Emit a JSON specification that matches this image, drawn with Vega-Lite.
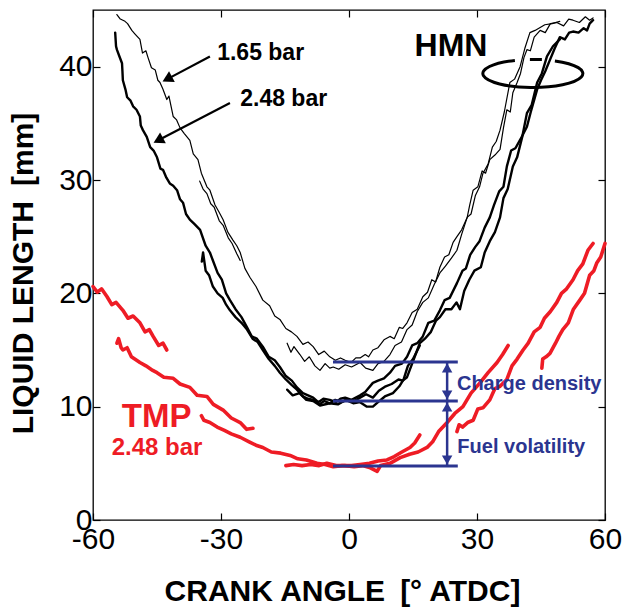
{
"$schema": "https://vega.github.io/schema/vega-lite/v6.json",
"width": 512, "height": 510,
"autosize": {"type": "none"},
"padding": {"left": 93, "top": 10, "right": 20, "bottom": 90},
"background": "white",
"config": {
  "view": {"stroke": "black", "strokeWidth": 1.3},
  "axis": {"grid": false, "domain": false, "tickColor": "black", "tickSize": -7, "tickWidth": 1.2,
    "labelFont": "Liberation Sans", "labelFontSize": 30, "labelColor": "black", "labelFlush": false,
    "titleFont": "Liberation Sans", "titleFontSize": 30, "titleFontWeight": "bold", "titleColor": "black"}
},
"datasets": {
"curves": [
{"s":"HMN 1.65 bar","r":"a","x":-54.4,"y":44.6},{"s":"HMN 1.65 bar","r":"a","x":-53.6,"y":44.2},{"s":"HMN 1.65 bar","r":"a","x":-52.5,"y":44.0},{"s":"HMN 1.65 bar","r":"a","x":-51.9,"y":43.8},{"s":"HMN 1.65 bar","r":"a","x":-50.9,"y":43.2},{"s":"HMN 1.65 bar","r":"a","x":-50.2,"y":42.9},{"s":"HMN 1.65 bar","r":"a","x":-49.0,"y":42.4},{"s":"HMN 1.65 bar","r":"a","x":-48.4,"y":41.2},{"s":"HMN 1.65 bar","r":"a","x":-47.6,"y":41.4},{"s":"HMN 1.65 bar","r":"a","x":-47.1,"y":40.8},{"s":"HMN 1.65 bar","r":"a","x":-46.3,"y":39.9},{"s":"HMN 1.65 bar","r":"a","x":-45.4,"y":39.7},{"s":"HMN 1.65 bar","r":"a","x":-44.8,"y":38.8},{"s":"HMN 1.65 bar","r":"a","x":-44.3,"y":38.6},{"s":"HMN 1.65 bar","r":"a","x":-43.6,"y":38.0},{"s":"HMN 1.65 bar","r":"a","x":-42.7,"y":37.1},{"s":"HMN 1.65 bar","r":"a","x":-42.2,"y":37.4},{"s":"HMN 1.65 bar","r":"a","x":-41.2,"y":35.6},{"s":"HMN 1.65 bar","r":"a","x":-40.4,"y":35.3},{"s":"HMN 1.65 bar","r":"a","x":-39.6,"y":34.6},{"s":"HMN 1.65 bar","r":"a","x":-38.6,"y":34.1},{"s":"HMN 1.65 bar","r":"a","x":-37.3,"y":33.5},{"s":"HMN 1.65 bar","r":"a","x":-36.5,"y":32.3},{"s":"HMN 1.65 bar","r":"a","x":-35.4,"y":31.8},{"s":"HMN 1.65 bar","r":"a","x":-34.6,"y":30.6},{"s":"HMN 1.65 bar","r":"a","x":-33.3,"y":29.4},{"s":"HMN 1.65 bar","r":"a","x":-32.6,"y":29.1},{"s":"HMN 1.65 bar","r":"a","x":-31.4,"y":27.8},{"s":"HMN 1.65 bar","r":"a","x":-30.5,"y":27.2},{"s":"HMN 1.65 bar","r":"a","x":-29.5,"y":26.5},{"s":"HMN 1.65 bar","r":"a","x":-28.4,"y":25.4},{"s":"HMN 1.65 bar","r":"a","x":-27.2,"y":24.7},{"s":"HMN 1.65 bar","r":"a","x":-26.3,"y":24.2},{"s":"HMN 1.65 bar","r":"a","x":-25.5,"y":23.6},{"s":"HMN 1.65 bar","r":"a","x":-24.4,"y":22.2},{"s":"HMN 1.65 bar","r":"a","x":-23.2,"y":21.4},{"s":"HMN 1.65 bar","r":"a","x":-21.8,"y":20.6},{"s":"HMN 1.65 bar","r":"a","x":-20.2,"y":19.4},{"s":"HMN 1.65 bar","r":"a","x":-18.6,"y":18.9},{"s":"HMN 1.65 bar","r":"a","x":-17.4,"y":18.0},{"s":"HMN 1.65 bar","r":"a","x":-16.2,"y":17.7},{"s":"HMN 1.65 bar","r":"a","x":-14.8,"y":16.9},{"s":"HMN 1.65 bar","r":"a","x":-13.5,"y":16.6},{"s":"HMN 1.65 bar","r":"a","x":-12.2,"y":16.2},{"s":"HMN 1.65 bar","r":"a","x":-10.8,"y":15.5},{"s":"HMN 1.65 bar","r":"a","x":-9.6,"y":15.7},{"s":"HMN 1.65 bar","r":"a","x":-8.4,"y":15.3},{"s":"HMN 1.65 bar","r":"a","x":-7.1,"y":14.6},{"s":"HMN 1.65 bar","r":"a","x":-5.8,"y":14.9},{"s":"HMN 1.65 bar","r":"a","x":-4.5,"y":14.4},{"s":"HMN 1.65 bar","r":"a","x":-3.2,"y":14.1},{"s":"HMN 1.65 bar","r":"a","x":-2.0,"y":14.3},{"s":"HMN 1.65 bar","r":"a","x":-0.9,"y":14.1},{"s":"HMN 1.65 bar","r":"a","x":0.5,"y":13.9},{"s":"HMN 1.65 bar","r":"a","x":1.6,"y":14.3},{"s":"HMN 1.65 bar","r":"a","x":2.6,"y":14.3},{"s":"HMN 1.65 bar","r":"a","x":3.8,"y":14.6},{"s":"HMN 1.65 bar","r":"a","x":4.6,"y":14.4},{"s":"HMN 1.65 bar","r":"a","x":5.6,"y":15.0},{"s":"HMN 1.65 bar","r":"a","x":6.8,"y":15.2},{"s":"HMN 1.65 bar","r":"a","x":8.2,"y":15.9},{"s":"HMN 1.65 bar","r":"a","x":9.6,"y":16.2},{"s":"HMN 1.65 bar","r":"a","x":10.6,"y":16.0},{"s":"HMN 1.65 bar","r":"a","x":11.8,"y":17.0},{"s":"HMN 1.65 bar","r":"a","x":12.6,"y":16.9},{"s":"HMN 1.65 bar","r":"a","x":13.6,"y":17.4},{"s":"HMN 1.65 bar","r":"a","x":14.8,"y":18.3},{"s":"HMN 1.65 bar","r":"a","x":16.0,"y":18.6},{"s":"HMN 1.65 bar","r":"a","x":17.3,"y":19.7},{"s":"HMN 1.65 bar","r":"a","x":18.4,"y":20.1},{"s":"HMN 1.65 bar","r":"a","x":19.4,"y":21.2},{"s":"HMN 1.65 bar","r":"a","x":20.3,"y":21.0},{"s":"HMN 1.65 bar","r":"a","x":21.3,"y":22.3},{"s":"HMN 1.65 bar","r":"a","x":22.4,"y":23.2},{"s":"HMN 1.65 bar","r":"a","x":23.4,"y":23.4},{"s":"HMN 1.65 bar","r":"a","x":24.4,"y":24.5},{"s":"HMN 1.65 bar","r":"a","x":25.3,"y":25.0},{"s":"HMN 1.65 bar","r":"a","x":26.4,"y":25.6},{"s":"HMN 1.65 bar","r":"a","x":27.7,"y":26.7},{"s":"HMN 1.65 bar","r":"a","x":28.3,"y":27.8},{"s":"HMN 1.65 bar","r":"a","x":29.1,"y":29.1},{"s":"HMN 1.65 bar","r":"a","x":30.2,"y":29.4},{"s":"HMN 1.65 bar","r":"a","x":31.2,"y":30.8},{"s":"HMN 1.65 bar","r":"a","x":32.0,"y":30.6},{"s":"HMN 1.65 bar","r":"a","x":33.0,"y":31.8},{"s":"HMN 1.65 bar","r":"a","x":34.2,"y":32.2},{"s":"HMN 1.65 bar","r":"a","x":35.4,"y":32.7},{"s":"HMN 1.65 bar","r":"a","x":36.2,"y":34.6},{"s":"HMN 1.65 bar","r":"a","x":37.0,"y":36.2},{"s":"HMN 1.65 bar","r":"a","x":37.8,"y":36.0},{"s":"HMN 1.65 bar","r":"a","x":38.4,"y":37.7},{"s":"HMN 1.65 bar","r":"a","x":39.4,"y":38.6},{"s":"HMN 1.65 bar","r":"a","x":40.2,"y":39.4},{"s":"HMN 1.65 bar","r":"a","x":41.0,"y":40.8},{"s":"HMN 1.65 bar","r":"a","x":41.7,"y":41.5},{"s":"HMN 1.65 bar","r":"a","x":42.5,"y":41.4},{"s":"HMN 1.65 bar","r":"a","x":43.4,"y":42.6},{"s":"HMN 1.65 bar","r":"a","x":44.8,"y":43.2},{"s":"HMN 1.65 bar","r":"a","x":46.0,"y":43.0},{"s":"HMN 1.65 bar","r":"a","x":47.2,"y":43.8},{"s":"HMN 1.65 bar","r":"a","x":48.7,"y":43.9},{"s":"HMN 1.65 bar","r":"a","x":50.3,"y":43.6},{"s":"HMN 1.65 bar","r":"a","x":51.5,"y":44.2},{"s":"HMN 1.65 bar","r":"a","x":52.5,"y":44.1},{"s":"HMN 1.65 bar","r":"a","x":54.0,"y":43.9},{"s":"HMN 1.65 bar","r":"a","x":55.4,"y":44.4},{"s":"HMN 1.65 bar","r":"a","x":56.4,"y":44.1},{"s":"HMN 1.65 bar","r":"a","x":57.2,"y":44.3},
{"s":"HMN 1.65 bar","r":"b","x":-14.5,"y":15.6},{"s":"HMN 1.65 bar","r":"b","x":-13.6,"y":14.8},{"s":"HMN 1.65 bar","r":"b","x":-12.9,"y":15.3},{"s":"HMN 1.65 bar","r":"b","x":-11.5,"y":14.6},{"s":"HMN 1.65 bar","r":"b","x":-10.4,"y":14.0},{"s":"HMN 1.65 bar","r":"b","x":-9.3,"y":14.4},{"s":"HMN 1.65 bar","r":"b","x":-8.0,"y":13.6},{"s":"HMN 1.65 bar","r":"b","x":-6.8,"y":13.2},{"s":"HMN 1.65 bar","r":"b","x":-5.6,"y":13.8},{"s":"HMN 1.65 bar","r":"b","x":-4.5,"y":13.4},{"s":"HMN 1.65 bar","r":"b","x":-3.7,"y":13.5},{"s":"HMN 1.65 bar","r":"b","x":-2.4,"y":13.3},{"s":"HMN 1.65 bar","r":"b","x":-0.9,"y":13.7},{"s":"HMN 1.65 bar","r":"b","x":0.6,"y":13.5},{"s":"HMN 1.65 bar","r":"b","x":2.6,"y":13.9},{"s":"HMN 1.65 bar","r":"b","x":3.9,"y":13.4},{"s":"HMN 1.65 bar","r":"b","x":5.6,"y":13.2},{"s":"HMN 1.65 bar","r":"b","x":6.8,"y":13.8},{"s":"HMN 1.65 bar","r":"b","x":8.2,"y":14.0},{"s":"HMN 1.65 bar","r":"b","x":9.6,"y":14.6},{"s":"HMN 1.65 bar","r":"b","x":10.8,"y":15.4},{"s":"HMN 1.65 bar","r":"b","x":12.3,"y":15.7},{"s":"HMN 1.65 bar","r":"b","x":13.6,"y":16.8},{"s":"HMN 1.65 bar","r":"b","x":14.8,"y":17.2},{"s":"HMN 1.65 bar","r":"b","x":16.0,"y":18.4},{"s":"HMN 1.65 bar","r":"b","x":17.3,"y":19.2},{"s":"HMN 1.65 bar","r":"b","x":18.6,"y":19.6},{"s":"HMN 1.65 bar","r":"b","x":20.0,"y":20.8},{"s":"HMN 1.65 bar","r":"b","x":21.3,"y":21.8},{"s":"HMN 1.65 bar","r":"b","x":22.6,"y":22.4},{"s":"HMN 1.65 bar","r":"b","x":24.0,"y":23.1},{"s":"HMN 1.65 bar","r":"b","x":25.3,"y":23.8},{"s":"HMN 1.65 bar","r":"b","x":26.4,"y":25.2},{"s":"HMN 1.65 bar","r":"b","x":27.7,"y":26.7},{"s":"HMN 1.65 bar","r":"b","x":28.6,"y":27.0},{"s":"HMN 1.65 bar","r":"b","x":29.6,"y":28.6},{"s":"HMN 1.65 bar","r":"b","x":30.6,"y":29.4},{"s":"HMN 1.65 bar","r":"b","x":31.4,"y":30.6},{"s":"HMN 1.65 bar","r":"b","x":32.6,"y":31.4},{"s":"HMN 1.65 bar","r":"b","x":33.6,"y":32.9},{"s":"HMN 1.65 bar","r":"b","x":34.5,"y":33.4},{"s":"HMN 1.65 bar","r":"b","x":35.4,"y":34.4},{"s":"HMN 1.65 bar","r":"b","x":36.4,"y":36.0},{"s":"HMN 1.65 bar","r":"b","x":37.7,"y":38.6},{"s":"HMN 1.65 bar","r":"b","x":38.8,"y":38.9},{"s":"HMN 1.65 bar","r":"b","x":40.1,"y":40.0},{"s":"HMN 1.65 bar","r":"b","x":41.2,"y":41.6},{"s":"HMN 1.65 bar","r":"b","x":42.4,"y":43.0},{"s":"HMN 1.65 bar","r":"b","x":43.6,"y":43.2},{"s":"HMN 1.65 bar","r":"b","x":45.9,"y":43.7},{"s":"HMN 1.65 bar","r":"b","x":47.6,"y":43.8},{"s":"HMN 1.65 bar","r":"b","x":49.4,"y":44.0},
{"s":"HMN 1.65 bar","r":"c","x":-35.0,"y":29.9},{"s":"HMN 1.65 bar","r":"c","x":-34.2,"y":29.2},{"s":"HMN 1.65 bar","r":"c","x":-33.3,"y":28.8},{"s":"HMN 1.65 bar","r":"c","x":-32.4,"y":27.9},{"s":"HMN 1.65 bar","r":"c","x":-31.6,"y":27.6},{"s":"HMN 1.65 bar","r":"c","x":-30.4,"y":26.4},{"s":"HMN 1.65 bar","r":"c","x":-29.5,"y":26.0},{"s":"HMN 1.65 bar","r":"c","x":-28.3,"y":24.9},{"s":"HMN 1.65 bar","r":"c","x":-27.4,"y":24.4},{"s":"HMN 1.65 bar","r":"c","x":-26.3,"y":23.5},{"s":"HMN 1.65 bar","r":"c","x":-25.5,"y":22.9},
{"s":"HMN 2.48 bar","r":"d","x":-54.8,"y":43.0},{"s":"HMN 2.48 bar","r":"d","x":-54.6,"y":41.8},{"s":"HMN 2.48 bar","r":"d","x":-54.4,"y":41.5},{"s":"HMN 2.48 bar","r":"d","x":-53.8,"y":40.9},{"s":"HMN 2.48 bar","r":"d","x":-53.2,"y":40.3},{"s":"HMN 2.48 bar","r":"d","x":-53.1,"y":39.6},{"s":"HMN 2.48 bar","r":"d","x":-53.0,"y":38.8},{"s":"HMN 2.48 bar","r":"d","x":-52.4,"y":38.0},{"s":"HMN 2.48 bar","r":"d","x":-52.0,"y":37.3},{"s":"HMN 2.48 bar","r":"d","x":-51.2,"y":37.0},{"s":"HMN 2.48 bar","r":"d","x":-50.6,"y":36.5},{"s":"HMN 2.48 bar","r":"d","x":-49.8,"y":36.2},{"s":"HMN 2.48 bar","r":"d","x":-49.0,"y":35.6},{"s":"HMN 2.48 bar","r":"d","x":-48.8,"y":34.8},{"s":"HMN 2.48 bar","r":"d","x":-48.3,"y":34.4},{"s":"HMN 2.48 bar","r":"d","x":-47.4,"y":33.8},{"s":"HMN 2.48 bar","r":"d","x":-46.6,"y":32.9},{"s":"HMN 2.48 bar","r":"d","x":-45.8,"y":32.6},{"s":"HMN 2.48 bar","r":"d","x":-45.0,"y":32.0},{"s":"HMN 2.48 bar","r":"d","x":-44.2,"y":31.0},{"s":"HMN 2.48 bar","r":"d","x":-43.6,"y":30.9},{"s":"HMN 2.48 bar","r":"d","x":-42.8,"y":30.2},{"s":"HMN 2.48 bar","r":"d","x":-42.0,"y":29.7},{"s":"HMN 2.48 bar","r":"d","x":-41.2,"y":29.5},{"s":"HMN 2.48 bar","r":"d","x":-40.3,"y":29.1},{"s":"HMN 2.48 bar","r":"d","x":-39.6,"y":28.3},{"s":"HMN 2.48 bar","r":"d","x":-38.9,"y":28.0},{"s":"HMN 2.48 bar","r":"d","x":-38.2,"y":27.0},{"s":"HMN 2.48 bar","r":"d","x":-37.3,"y":26.5},{"s":"HMN 2.48 bar","r":"d","x":-36.2,"y":26.1},{"s":"HMN 2.48 bar","r":"d","x":-34.9,"y":25.6},{"s":"HMN 2.48 bar","r":"d","x":-33.6,"y":24.2},{"s":"HMN 2.48 bar","r":"d","x":-32.6,"y":23.6},{"s":"HMN 2.48 bar","r":"d","x":-31.9,"y":22.9},{"s":"HMN 2.48 bar","r":"d","x":-30.8,"y":21.8},{"s":"HMN 2.48 bar","r":"d","x":-29.8,"y":21.2},{"s":"HMN 2.48 bar","r":"d","x":-28.8,"y":20.0},{"s":"HMN 2.48 bar","r":"d","x":-27.9,"y":19.4},{"s":"HMN 2.48 bar","r":"d","x":-26.6,"y":18.6},{"s":"HMN 2.48 bar","r":"d","x":-25.2,"y":17.9},{"s":"HMN 2.48 bar","r":"d","x":-23.9,"y":17.0},{"s":"HMN 2.48 bar","r":"d","x":-22.8,"y":16.2},{"s":"HMN 2.48 bar","r":"d","x":-21.6,"y":16.0},{"s":"HMN 2.48 bar","r":"d","x":-20.2,"y":15.3},{"s":"HMN 2.48 bar","r":"d","x":-18.8,"y":14.4},{"s":"HMN 2.48 bar","r":"d","x":-17.4,"y":14.1},{"s":"HMN 2.48 bar","r":"d","x":-16.2,"y":13.5},{"s":"HMN 2.48 bar","r":"d","x":-14.8,"y":12.7},{"s":"HMN 2.48 bar","r":"d","x":-13.4,"y":12.3},{"s":"HMN 2.48 bar","r":"d","x":-12.2,"y":11.7},{"s":"HMN 2.48 bar","r":"d","x":-10.8,"y":11.2},{"s":"HMN 2.48 bar","r":"d","x":-9.6,"y":11.0},{"s":"HMN 2.48 bar","r":"d","x":-8.4,"y":10.8},{"s":"HMN 2.48 bar","r":"d","x":-7.2,"y":10.4},{"s":"HMN 2.48 bar","r":"d","x":-6.0,"y":10.7},{"s":"HMN 2.48 bar","r":"d","x":-4.5,"y":10.6},{"s":"HMN 2.48 bar","r":"d","x":-3.0,"y":10.4},{"s":"HMN 2.48 bar","r":"d","x":-2.0,"y":10.7},{"s":"HMN 2.48 bar","r":"d","x":-0.9,"y":10.8},{"s":"HMN 2.48 bar","r":"d","x":0.6,"y":10.6},{"s":"HMN 2.48 bar","r":"d","x":2.6,"y":11.0},{"s":"HMN 2.48 bar","r":"d","x":3.8,"y":11.3},{"s":"HMN 2.48 bar","r":"d","x":5.6,"y":12.1},{"s":"HMN 2.48 bar","r":"d","x":6.8,"y":12.3},{"s":"HMN 2.48 bar","r":"d","x":8.2,"y":12.5},{"s":"HMN 2.48 bar","r":"d","x":9.6,"y":13.0},{"s":"HMN 2.48 bar","r":"d","x":10.8,"y":13.6},{"s":"HMN 2.48 bar","r":"d","x":12.4,"y":13.8},{"s":"HMN 2.48 bar","r":"d","x":13.6,"y":14.4},{"s":"HMN 2.48 bar","r":"d","x":14.8,"y":15.4},{"s":"HMN 2.48 bar","r":"d","x":16.0,"y":15.6},{"s":"HMN 2.48 bar","r":"d","x":17.3,"y":16.2},{"s":"HMN 2.48 bar","r":"d","x":18.6,"y":17.4},{"s":"HMN 2.48 bar","r":"d","x":20.0,"y":17.6},{"s":"HMN 2.48 bar","r":"d","x":21.3,"y":18.5},{"s":"HMN 2.48 bar","r":"d","x":22.4,"y":19.4},{"s":"HMN 2.48 bar","r":"d","x":23.6,"y":19.6},{"s":"HMN 2.48 bar","r":"d","x":25.3,"y":20.9},{"s":"HMN 2.48 bar","r":"d","x":26.6,"y":22.0},{"s":"HMN 2.48 bar","r":"d","x":27.4,"y":22.2},{"s":"HMN 2.48 bar","r":"d","x":28.4,"y":23.4},{"s":"HMN 2.48 bar","r":"d","x":29.6,"y":24.1},{"s":"HMN 2.48 bar","r":"d","x":30.6,"y":24.6},{"s":"HMN 2.48 bar","r":"d","x":31.8,"y":25.8},{"s":"HMN 2.48 bar","r":"d","x":33.0,"y":26.7},{"s":"HMN 2.48 bar","r":"d","x":34.0,"y":27.8},{"s":"HMN 2.48 bar","r":"d","x":35.2,"y":29.0},{"s":"HMN 2.48 bar","r":"d","x":36.2,"y":29.4},{"s":"HMN 2.48 bar","r":"d","x":37.0,"y":31.2},{"s":"HMN 2.48 bar","r":"d","x":38.0,"y":32.6},{"s":"HMN 2.48 bar","r":"d","x":39.0,"y":32.8},{"s":"HMN 2.48 bar","r":"d","x":40.2,"y":33.6},{"s":"HMN 2.48 bar","r":"d","x":41.7,"y":34.7},{"s":"HMN 2.48 bar","r":"d","x":42.6,"y":36.0},{"s":"HMN 2.48 bar","r":"d","x":43.2,"y":36.8},{"s":"HMN 2.48 bar","r":"d","x":44.1,"y":38.0},{"s":"HMN 2.48 bar","r":"d","x":45.0,"y":38.8},{"s":"HMN 2.48 bar","r":"d","x":46.0,"y":39.6},{"s":"HMN 2.48 bar","r":"d","x":47.1,"y":40.6},{"s":"HMN 2.48 bar","r":"d","x":48.2,"y":41.6},{"s":"HMN 2.48 bar","r":"d","x":49.4,"y":42.6},{"s":"HMN 2.48 bar","r":"d","x":50.6,"y":42.4},{"s":"HMN 2.48 bar","r":"d","x":51.6,"y":43.0},{"s":"HMN 2.48 bar","r":"d","x":52.5,"y":43.1},{"s":"HMN 2.48 bar","r":"d","x":53.8,"y":43.0},{"s":"HMN 2.48 bar","r":"d","x":55.0,"y":43.4},{"s":"HMN 2.48 bar","r":"d","x":55.8,"y":43.2},{"s":"HMN 2.48 bar","r":"d","x":56.4,"y":43.8},{"s":"HMN 2.48 bar","r":"d","x":57.2,"y":44.1},
{"s":"HMN 2.48 bar","r":"e","x":-34.5,"y":22.8},{"s":"HMN 2.48 bar","r":"e","x":-34.2,"y":23.6},{"s":"HMN 2.48 bar","r":"e","x":-33.6,"y":22.0},{"s":"HMN 2.48 bar","r":"e","x":-32.8,"y":21.6},{"s":"HMN 2.48 bar","r":"e","x":-31.9,"y":20.6},{"s":"HMN 2.48 bar","r":"e","x":-30.8,"y":20.0},{"s":"HMN 2.48 bar","r":"e","x":-29.6,"y":19.6},{"s":"HMN 2.48 bar","r":"e","x":-28.8,"y":19.0},{"s":"HMN 2.48 bar","r":"e","x":-27.9,"y":18.5},{"s":"HMN 2.48 bar","r":"e","x":-26.6,"y":17.9},{"s":"HMN 2.48 bar","r":"e","x":-25.2,"y":17.4},{"s":"HMN 2.48 bar","r":"e","x":-23.9,"y":16.8},{"s":"HMN 2.48 bar","r":"e","x":-22.6,"y":16.0},{"s":"HMN 2.48 bar","r":"e","x":-21.4,"y":15.7},{"s":"HMN 2.48 bar","r":"e","x":-20.2,"y":15.0},{"s":"HMN 2.48 bar","r":"e","x":-18.8,"y":14.2},{"s":"HMN 2.48 bar","r":"e","x":-17.4,"y":13.6},{"s":"HMN 2.48 bar","r":"e","x":-16.2,"y":13.0},{"s":"HMN 2.48 bar","r":"e","x":-14.8,"y":12.4},{"s":"HMN 2.48 bar","r":"e","x":-13.4,"y":11.9},{"s":"HMN 2.48 bar","r":"e","x":-12.2,"y":11.5},{"s":"HMN 2.48 bar","r":"e","x":-10.8,"y":10.9},{"s":"HMN 2.48 bar","r":"e","x":-9.6,"y":10.7},{"s":"HMN 2.48 bar","r":"e","x":-8.4,"y":10.6},{"s":"HMN 2.48 bar","r":"e","x":-7.0,"y":10.2},{"s":"HMN 2.48 bar","r":"e","x":-5.8,"y":10.5},{"s":"HMN 2.48 bar","r":"e","x":-4.5,"y":10.3},{"s":"HMN 2.48 bar","r":"e","x":-3.2,"y":10.6},{"s":"HMN 2.48 bar","r":"e","x":-1.8,"y":10.4},{"s":"HMN 2.48 bar","r":"e","x":-0.4,"y":10.6},{"s":"HMN 2.48 bar","r":"e","x":1.2,"y":10.5},{"s":"HMN 2.48 bar","r":"e","x":2.6,"y":10.8},{"s":"HMN 2.48 bar","r":"e","x":4.0,"y":11.1},{"s":"HMN 2.48 bar","r":"e","x":5.6,"y":10.8},{"s":"HMN 2.48 bar","r":"e","x":7.0,"y":11.4},{"s":"HMN 2.48 bar","r":"e","x":8.6,"y":11.8},{"s":"HMN 2.48 bar","r":"e","x":10.0,"y":12.0},{"s":"HMN 2.48 bar","r":"e","x":11.6,"y":12.4},{"s":"HMN 2.48 bar","r":"e","x":12.6,"y":12.3},{"s":"HMN 2.48 bar","r":"e","x":13.6,"y":12.6},{"s":"HMN 2.48 bar","r":"e","x":14.6,"y":13.6},{"s":"HMN 2.48 bar","r":"e","x":15.6,"y":14.6},{"s":"HMN 2.48 bar","r":"e","x":16.6,"y":15.6},{"s":"HMN 2.48 bar","r":"e","x":17.8,"y":16.0},{"s":"HMN 2.48 bar","r":"e","x":19.2,"y":16.6},{"s":"HMN 2.48 bar","r":"e","x":20.4,"y":17.6},{"s":"HMN 2.48 bar","r":"e","x":21.3,"y":17.9},{"s":"HMN 2.48 bar","r":"e","x":22.6,"y":18.6},{"s":"HMN 2.48 bar","r":"e","x":24.0,"y":18.6},{"s":"HMN 2.48 bar","r":"e","x":25.2,"y":19.2},{"s":"HMN 2.48 bar","r":"e","x":26.0,"y":18.6},{"s":"HMN 2.48 bar","r":"e","x":27.0,"y":20.2},{"s":"HMN 2.48 bar","r":"e","x":28.2,"y":21.2},{"s":"HMN 2.48 bar","r":"e","x":29.4,"y":22.0},{"s":"HMN 2.48 bar","r":"e","x":30.9,"y":22.3},{"s":"HMN 2.48 bar","r":"e","x":31.8,"y":23.6},{"s":"HMN 2.48 bar","r":"e","x":33.0,"y":24.6},{"s":"HMN 2.48 bar","r":"e","x":34.2,"y":25.4},{"s":"HMN 2.48 bar","r":"e","x":35.4,"y":26.7},{"s":"HMN 2.48 bar","r":"e","x":36.2,"y":28.4},{"s":"HMN 2.48 bar","r":"e","x":37.2,"y":29.2},{"s":"HMN 2.48 bar","r":"e","x":38.4,"y":31.2},{"s":"HMN 2.48 bar","r":"e","x":39.4,"y":32.0},{"s":"HMN 2.48 bar","r":"e","x":40.6,"y":33.8},{"s":"HMN 2.48 bar","r":"e","x":41.7,"y":35.9},{"s":"HMN 2.48 bar","r":"e","x":42.8,"y":36.6},{"s":"HMN 2.48 bar","r":"e","x":44.1,"y":38.6},{"s":"HMN 2.48 bar","r":"e","x":45.2,"y":39.4},{"s":"HMN 2.48 bar","r":"e","x":46.4,"y":40.9},{"s":"HMN 2.48 bar","r":"e","x":47.8,"y":41.8},{"s":"HMN 2.48 bar","r":"e","x":49.4,"y":42.4},
{"s":"HMN 2.48 bar","r":"f","x":-14.5,"y":11.5},{"s":"HMN 2.48 bar","r":"f","x":-13.2,"y":11.0},{"s":"HMN 2.48 bar","r":"f","x":-11.6,"y":11.2},{"s":"HMN 2.48 bar","r":"f","x":-10.0,"y":10.6},{"s":"HMN 2.48 bar","r":"f","x":-8.4,"y":10.5},{"s":"HMN 2.48 bar","r":"f","x":-6.8,"y":10.1},{"s":"HMN 2.48 bar","r":"f","x":-4.5,"y":10.3},{"s":"HMN 2.48 bar","r":"f","x":-2.6,"y":10.2},{"s":"HMN 2.48 bar","r":"f","x":-0.8,"y":10.6},{"s":"HMN 2.48 bar","r":"f","x":1.0,"y":10.3},{"s":"HMN 2.48 bar","r":"f","x":2.6,"y":10.4},{"s":"HMN 2.48 bar","r":"f","x":4.2,"y":10.0},{"s":"HMN 2.48 bar","r":"f","x":5.6,"y":10.0},{"s":"HMN 2.48 bar","r":"f","x":6.8,"y":10.4},{"s":"HMN 2.48 bar","r":"f","x":8.4,"y":10.9},{"s":"HMN 2.48 bar","r":"f","x":10.3,"y":11.2},{"s":"HMN 2.48 bar","r":"f","x":11.8,"y":11.8},{"s":"HMN 2.48 bar","r":"f","x":12.8,"y":12.4},{"s":"HMN 2.48 bar","r":"f","x":13.8,"y":13.6},{"s":"HMN 2.48 bar","r":"f","x":15.0,"y":14.2},{"s":"HMN 2.48 bar","r":"f","x":16.6,"y":15.4},
{"s":"TMP 2.48 bar","r":"g","x":-60.0,"y":20.6},{"s":"TMP 2.48 bar","r":"g","x":-59.0,"y":20.1},{"s":"TMP 2.48 bar","r":"g","x":-58.0,"y":20.4},{"s":"TMP 2.48 bar","r":"g","x":-56.7,"y":19.7},{"s":"TMP 2.48 bar","r":"g","x":-55.6,"y":19.0},{"s":"TMP 2.48 bar","r":"g","x":-54.6,"y":19.2},{"s":"TMP 2.48 bar","r":"g","x":-53.0,"y":18.5},{"s":"TMP 2.48 bar","r":"g","x":-51.8,"y":17.8},{"s":"TMP 2.48 bar","r":"g","x":-50.6,"y":18.0},{"s":"TMP 2.48 bar","r":"g","x":-49.0,"y":17.4},{"s":"TMP 2.48 bar","r":"g","x":-47.8,"y":16.6},{"s":"TMP 2.48 bar","r":"g","x":-46.8,"y":16.8},{"s":"TMP 2.48 bar","r":"g","x":-45.9,"y":16.2},{"s":"TMP 2.48 bar","r":"g","x":-44.6,"y":15.4},{"s":"TMP 2.48 bar","r":"g","x":-43.6,"y":15.6},{"s":"TMP 2.48 bar","r":"g","x":-42.7,"y":15.0},
{"s":"TMP 2.48 bar","r":"h","x":-54.4,"y":15.6},{"s":"TMP 2.48 bar","r":"h","x":-54.0,"y":16.0},{"s":"TMP 2.48 bar","r":"h","x":-53.4,"y":15.2},{"s":"TMP 2.48 bar","r":"h","x":-53.0,"y":15.0},{"s":"TMP 2.48 bar","r":"h","x":-52.0,"y":15.2},{"s":"TMP 2.48 bar","r":"h","x":-51.0,"y":14.4},{"s":"TMP 2.48 bar","r":"h","x":-49.0,"y":13.9},{"s":"TMP 2.48 bar","r":"h","x":-47.6,"y":13.6},{"s":"TMP 2.48 bar","r":"h","x":-46.0,"y":13.2},{"s":"TMP 2.48 bar","r":"h","x":-45.0,"y":13.0},{"s":"TMP 2.48 bar","r":"h","x":-43.4,"y":12.6},{"s":"TMP 2.48 bar","r":"h","x":-41.2,"y":12.5},{"s":"TMP 2.48 bar","r":"h","x":-39.6,"y":12.0},{"s":"TMP 2.48 bar","r":"h","x":-37.3,"y":11.7},{"s":"TMP 2.48 bar","r":"h","x":-35.6,"y":11.0},{"s":"TMP 2.48 bar","r":"h","x":-33.3,"y":10.9},{"s":"TMP 2.48 bar","r":"h","x":-31.8,"y":10.2},{"s":"TMP 2.48 bar","r":"h","x":-29.5,"y":9.7},{"s":"TMP 2.48 bar","r":"h","x":-27.6,"y":9.0},{"s":"TMP 2.48 bar","r":"h","x":-25.5,"y":8.6},{"s":"TMP 2.48 bar","r":"h","x":-24.0,"y":8.0},{"s":"TMP 2.48 bar","r":"h","x":-22.5,"y":8.1},
{"s":"TMP 2.48 bar","r":"i","x":-34.6,"y":9.2},{"s":"TMP 2.48 bar","r":"i","x":-34.0,"y":8.8},{"s":"TMP 2.48 bar","r":"i","x":-32.6,"y":8.6},{"s":"TMP 2.48 bar","r":"i","x":-30.9,"y":8.2},{"s":"TMP 2.48 bar","r":"i","x":-29.2,"y":7.9},{"s":"TMP 2.48 bar","r":"i","x":-27.6,"y":7.6},{"s":"TMP 2.48 bar","r":"i","x":-25.5,"y":7.3},{"s":"TMP 2.48 bar","r":"i","x":-23.4,"y":6.9},{"s":"TMP 2.48 bar","r":"i","x":-21.8,"y":6.6},{"s":"TMP 2.48 bar","r":"i","x":-20.2,"y":6.4},{"s":"TMP 2.48 bar","r":"i","x":-18.2,"y":6.0},{"s":"TMP 2.48 bar","r":"i","x":-16.0,"y":5.9},{"s":"TMP 2.48 bar","r":"i","x":-13.8,"y":5.7},{"s":"TMP 2.48 bar","r":"i","x":-12.0,"y":5.4},{"s":"TMP 2.48 bar","r":"i","x":-10.0,"y":5.3},{"s":"TMP 2.48 bar","r":"i","x":-7.5,"y":5.0},{"s":"TMP 2.48 bar","r":"i","x":-5.6,"y":4.9},{"s":"TMP 2.48 bar","r":"i","x":-3.7,"y":4.7},{"s":"TMP 2.48 bar","r":"i","x":-1.6,"y":4.8},{"s":"TMP 2.48 bar","r":"i","x":0.6,"y":4.8},{"s":"TMP 2.48 bar","r":"i","x":2.6,"y":4.9},{"s":"TMP 2.48 bar","r":"i","x":4.8,"y":5.0},{"s":"TMP 2.48 bar","r":"i","x":6.8,"y":5.2},{"s":"TMP 2.48 bar","r":"i","x":8.9,"y":5.3},{"s":"TMP 2.48 bar","r":"i","x":10.6,"y":5.6},{"s":"TMP 2.48 bar","r":"i","x":12.4,"y":6.0},{"s":"TMP 2.48 bar","r":"i","x":14.3,"y":6.4},{"s":"TMP 2.48 bar","r":"i","x":15.4,"y":6.8},{"s":"TMP 2.48 bar","r":"i","x":16.6,"y":7.5},
{"s":"TMP 2.48 bar","r":"j","x":-14.8,"y":4.8},{"s":"TMP 2.48 bar","r":"j","x":-13.0,"y":4.9},{"s":"TMP 2.48 bar","r":"j","x":-11.0,"y":4.8},{"s":"TMP 2.48 bar","r":"j","x":-9.0,"y":4.9},{"s":"TMP 2.48 bar","r":"j","x":-7.0,"y":4.8},{"s":"TMP 2.48 bar","r":"j","x":-5.2,"y":5.0},{"s":"TMP 2.48 bar","r":"j","x":-3.0,"y":4.8},{"s":"TMP 2.48 bar","r":"j","x":-1.0,"y":4.8},{"s":"TMP 2.48 bar","r":"j","x":1.2,"y":4.7},{"s":"TMP 2.48 bar","r":"j","x":3.2,"y":4.8},{"s":"TMP 2.48 bar","r":"j","x":5.0,"y":4.6},{"s":"TMP 2.48 bar","r":"j","x":6.6,"y":4.3},{"s":"TMP 2.48 bar","r":"j","x":7.4,"y":4.8},{"s":"TMP 2.48 bar","r":"j","x":9.6,"y":5.0},{"s":"TMP 2.48 bar","r":"j","x":12.0,"y":5.5},{"s":"TMP 2.48 bar","r":"j","x":14.2,"y":5.8},{"s":"TMP 2.48 bar","r":"j","x":16.2,"y":6.0},{"s":"TMP 2.48 bar","r":"j","x":18.3,"y":6.4},{"s":"TMP 2.48 bar","r":"j","x":19.6,"y":6.9},{"s":"TMP 2.48 bar","r":"j","x":21.0,"y":7.8},{"s":"TMP 2.48 bar","r":"j","x":23.0,"y":8.6},{"s":"TMP 2.48 bar","r":"j","x":24.8,"y":9.4},{"s":"TMP 2.48 bar","r":"j","x":26.7,"y":10.0},{"s":"TMP 2.48 bar","r":"j","x":28.6,"y":11.2},{"s":"TMP 2.48 bar","r":"j","x":30.7,"y":12.1},{"s":"TMP 2.48 bar","r":"j","x":32.6,"y":13.0},{"s":"TMP 2.48 bar","r":"j","x":34.7,"y":13.9},{"s":"TMP 2.48 bar","r":"j","x":36.0,"y":14.6},{"s":"TMP 2.48 bar","r":"j","x":37.3,"y":15.4},
{"s":"TMP 2.48 bar","r":"k","x":25.3,"y":7.8},{"s":"TMP 2.48 bar","r":"k","x":25.8,"y":8.4},{"s":"TMP 2.48 bar","r":"k","x":26.6,"y":8.2},{"s":"TMP 2.48 bar","r":"k","x":27.8,"y":8.6},{"s":"TMP 2.48 bar","r":"k","x":29.1,"y":8.8},{"s":"TMP 2.48 bar","r":"k","x":30.2,"y":9.8},{"s":"TMP 2.48 bar","r":"k","x":31.4,"y":9.9},{"s":"TMP 2.48 bar","r":"k","x":33.0,"y":10.6},{"s":"TMP 2.48 bar","r":"k","x":34.2,"y":11.6},{"s":"TMP 2.48 bar","r":"k","x":35.4,"y":11.8},{"s":"TMP 2.48 bar","r":"k","x":37.0,"y":12.4},{"s":"TMP 2.48 bar","r":"k","x":38.2,"y":13.6},{"s":"TMP 2.48 bar","r":"k","x":39.4,"y":14.2},{"s":"TMP 2.48 bar","r":"k","x":40.8,"y":15.0},{"s":"TMP 2.48 bar","r":"k","x":42.0,"y":15.6},{"s":"TMP 2.48 bar","r":"k","x":43.4,"y":16.6},{"s":"TMP 2.48 bar","r":"k","x":44.8,"y":17.0},{"s":"TMP 2.48 bar","r":"k","x":45.8,"y":17.8},{"s":"TMP 2.48 bar","r":"k","x":47.2,"y":18.4},{"s":"TMP 2.48 bar","r":"k","x":48.7,"y":19.2},{"s":"TMP 2.48 bar","r":"k","x":49.8,"y":20.0},{"s":"TMP 2.48 bar","r":"k","x":51.0,"y":20.4},{"s":"TMP 2.48 bar","r":"k","x":52.5,"y":21.2},{"s":"TMP 2.48 bar","r":"k","x":53.6,"y":22.0},{"s":"TMP 2.48 bar","r":"k","x":54.8,"y":22.6},{"s":"TMP 2.48 bar","r":"k","x":56.0,"y":23.8},{"s":"TMP 2.48 bar","r":"k","x":57.2,"y":24.4},
{"s":"TMP 2.48 bar","r":"l","x":45.2,"y":13.4},{"s":"TMP 2.48 bar","r":"l","x":45.4,"y":14.2},{"s":"TMP 2.48 bar","r":"l","x":46.2,"y":14.4},{"s":"TMP 2.48 bar","r":"l","x":47.1,"y":14.7},{"s":"TMP 2.48 bar","r":"l","x":48.4,"y":15.6},{"s":"TMP 2.48 bar","r":"l","x":49.2,"y":16.2},{"s":"TMP 2.48 bar","r":"l","x":50.1,"y":16.8},{"s":"TMP 2.48 bar","r":"l","x":51.4,"y":17.4},{"s":"TMP 2.48 bar","r":"l","x":52.6,"y":18.6},{"s":"TMP 2.48 bar","r":"l","x":54.1,"y":19.4},{"s":"TMP 2.48 bar","r":"l","x":55.2,"y":20.0},{"s":"TMP 2.48 bar","r":"l","x":56.4,"y":21.6},{"s":"TMP 2.48 bar","r":"l","x":57.4,"y":22.0},{"s":"TMP 2.48 bar","r":"l","x":58.1,"y":22.7},{"s":"TMP 2.48 bar","r":"l","x":59.0,"y":23.2},{"s":"TMP 2.48 bar","r":"l","x":60.0,"y":24.4}
],
"levels": [{"x1": -3.75, "x2": 25.5, "y": 13.95}, {"x1": -3.75, "x2": 25.5, "y": 10.5}, {"x1": -3.75, "x2": 25.5, "y": 4.77}],
"spans": [{"x": 23.0, "y1": 13.95, "y2": 10.5}, {"x": 23.0, "y1": 10.5, "y2": 4.77}],
"heads": [{"x": 23.0, "y": 13.42, "d": "up"}, {"x": 23.0, "y": 11.03, "d": "down"}, {"x": 23.0, "y": 9.97, "d": "up"}, {"x": 23.0, "y": 5.3, "d": "down"}],
"pointers": [{"x": -32.6, "y": 40.9, "x2": -42.6, "y2": 38.9}, {"x": -27.9, "y": 36.8, "x2": -44.7, "y2": 33.5}],
"ring": [{"x": 43.1, "y": 39.4}],
"labels": [
 {"t": "1.65 bar", "k": "p", "x": -30.9, "y": 40.6},
 {"t": "2.48 bar", "k": "p", "x": -25.5, "y": 36.5},
 {"t": "HMN", "k": "hmn", "x": 23.9, "y": 40.9},
 {"t": "TMP", "k": "tmp", "x": -45.1, "y": 8.2},
 {"t": "2.48 bar", "k": "tmpp", "x": -45.0, "y": 5.7},
 {"t": "Charge density", "k": "blue", "x": 25.3, "y": 11.5},
 {"t": "Fuel volatility", "k": "blue", "x": 25.4, "y": 5.9}
]
},
"resolve": {"axis": {"x": "independent", "y": "independent"}},
"layer": [
 {
  "data": {"name": "curves"},
  "mark": {"type": "line", "strokeJoin": "round", "strokeCap": "round"},
  "encoding": {
   "x": {"field": "x", "type": "quantitative", "scale": {"domain": [-60, 60], "nice": false, "zero": false},
     "axis": {"orient": "bottom", "values": [-60, -30, 0, 30, 60], "labelExpr": "'' + datum.value", "labelPadding": 11, "title": "CRANK ANGLE\u2002[° ATDC]", "titleX": 249, "titleY": 80, "titleBaseline": "alphabetic"}},
   "y": {"field": "y", "type": "quantitative", "scale": {"domain": [0, 45], "nice": false, "zero": false},
     "axis": {"orient": "left", "values": [0, 10, 20, 30, 40], "labelPadding": 8, "title": "LIQUID LENGTH\u2002[mm]", "titleX": -70, "titleY": 263, "titleBaseline": "middle", "titleAngle": 270}},
   "detail": {"field": "r"},
   "color": {"field": "s", "type": "nominal", "scale": {"domain": ["HMN 1.65 bar", "HMN 2.48 bar", "TMP 2.48 bar"], "range": ["#000000", "#000000", "#EE1C25"]}, "legend": null},
   "strokeWidth": {"field": "s", "type": "nominal", "scale": {"domain": ["HMN 1.65 bar", "HMN 2.48 bar", "TMP 2.48 bar"], "range": [1.2, 3.6, 2.8]}, "legend": null}
  }
 },
 {
  "data": {"name": "levels"},
  "mark": {"type": "rule", "color": "#2B3590", "strokeWidth": 3},
  "encoding": {
   "x": {"field": "x1", "type": "quantitative", "scale": {"domain": [-60, 60], "nice": false, "zero": false},
     "axis": {"orient": "top", "values": [-60, -30, 0, 30, 60], "labels": false, "title": null}},
   "x2": {"field": "x2"},
   "y": {"field": "y", "type": "quantitative", "scale": {"domain": [0, 45], "nice": false, "zero": false},
     "axis": {"orient": "right", "values": [0, 10, 20, 30, 40], "labels": false, "title": null}}
  }
 },
 {
  "data": {"name": "spans"},
  "mark": {"type": "rule", "color": "#2B3590", "strokeWidth": 2.5},
  "encoding": {
   "x": {"field": "x", "type": "quantitative", "scale": {"domain": [-60, 60], "nice": false, "zero": false}, "axis": null},
   "y": {"field": "y1", "type": "quantitative", "scale": {"domain": [0, 45], "nice": false, "zero": false}, "axis": null},
   "y2": {"field": "y2"}
  }
 },
 {
  "data": {"name": "heads"},
  "mark": {"type": "point", "filled": true, "color": "#2B3590", "opacity": 1, "size": 110},
  "encoding": {
   "x": {"field": "x", "type": "quantitative", "scale": {"domain": [-60, 60], "nice": false, "zero": false}, "axis": null},
   "y": {"field": "y", "type": "quantitative", "scale": {"domain": [0, 45], "nice": false, "zero": false}, "axis": null},
   "shape": {"field": "d", "type": "nominal", "scale": {"domain": ["up", "down"], "range": ["triangle-up", "triangle-down"]}, "legend": null}
  }
 },
 {
  "data": {"name": "pointers"},
  "mark": {"type": "rule", "color": "black", "strokeWidth": 2.2},
  "encoding": {
   "x": {"field": "x", "type": "quantitative", "scale": {"domain": [-60, 60], "nice": false, "zero": false}, "axis": null},
   "y": {"field": "y", "type": "quantitative", "scale": {"domain": [0, 45], "nice": false, "zero": false}, "axis": null},
   "x2": {"field": "x2"},
   "y2": {"field": "y2"}
  }
 },
 {
  "data": {"name": "pointers"},
  "mark": {"type": "point", "shape": "triangle-up", "filled": true, "color": "black", "opacity": 1, "size": 150, "angle": 242},
  "encoding": {
   "x": {"field": "x2", "type": "quantitative", "scale": {"domain": [-60, 60], "nice": false, "zero": false}, "axis": null},
   "y": {"field": "y2", "type": "quantitative", "scale": {"domain": [0, 45], "nice": false, "zero": false}, "axis": null}
  }
 },
 {
  "data": {"name": "ring"},
  "mark": {"type": "point", "shape": "M-0.36,-0.261A1,0.28 0 1,0 0.44,-0.251M-0.06,-0.28L0.18,-0.278", "filled": false, "color": "black", "opacity": 1, "strokeWidth": 3, "size": 10000},
  "encoding": {
   "x": {"field": "x", "type": "quantitative", "scale": {"domain": [-60, 60], "nice": false, "zero": false}, "axis": null},
   "y": {"field": "y", "type": "quantitative", "scale": {"domain": [0, 45], "nice": false, "zero": false}, "axis": null}
  }
 },
 {
  "data": {"name": "labels"},
  "transform": [{"filter": "datum.k === 'p'"}],
  "mark": {"type": "text", "font": "Liberation Sans", "fontWeight": "bold", "fontSize": 23, "color": "black", "align": "left", "baseline": "alphabetic"},
  "encoding": {
   "x": {"field": "x", "type": "quantitative", "scale": {"domain": [-60, 60], "nice": false, "zero": false}, "axis": null},
   "y": {"field": "y", "type": "quantitative", "scale": {"domain": [0, 45], "nice": false, "zero": false}, "axis": null},
   "text": {"field": "t"}
  }
 },
 {
  "data": {"name": "labels"},
  "transform": [{"filter": "datum.k === 'hmn'"}],
  "mark": {"type": "text", "font": "Liberation Sans", "fontWeight": "bold", "fontSize": 32, "color": "black", "align": "center", "baseline": "alphabetic"},
  "encoding": {
   "x": {"field": "x", "type": "quantitative", "scale": {"domain": [-60, 60], "nice": false, "zero": false}, "axis": null},
   "y": {"field": "y", "type": "quantitative", "scale": {"domain": [0, 45], "nice": false, "zero": false}, "axis": null},
   "text": {"field": "t"}
  }
 },
 {
  "data": {"name": "labels"},
  "transform": [{"filter": "datum.k === 'tmp'"}],
  "mark": {"type": "text", "font": "Liberation Sans", "fontWeight": "bold", "fontSize": 33, "color": "#EE1C25", "align": "center", "baseline": "alphabetic"},
  "encoding": {
   "x": {"field": "x", "type": "quantitative", "scale": {"domain": [-60, 60], "nice": false, "zero": false}, "axis": null},
   "y": {"field": "y", "type": "quantitative", "scale": {"domain": [0, 45], "nice": false, "zero": false}, "axis": null},
   "text": {"field": "t"}
  }
 },
 {
  "data": {"name": "labels"},
  "transform": [{"filter": "datum.k === 'tmpp'"}],
  "mark": {"type": "text", "font": "Liberation Sans", "fontWeight": "bold", "fontSize": 24, "color": "#EE1C25", "align": "center", "baseline": "alphabetic"},
  "encoding": {
   "x": {"field": "x", "type": "quantitative", "scale": {"domain": [-60, 60], "nice": false, "zero": false}, "axis": null},
   "y": {"field": "y", "type": "quantitative", "scale": {"domain": [0, 45], "nice": false, "zero": false}, "axis": null},
   "text": {"field": "t"}
  }
 },
 {
  "data": {"name": "labels"},
  "transform": [{"filter": "datum.k === 'blue'"}],
  "mark": {"type": "text", "font": "Liberation Sans", "fontWeight": "bold", "fontSize": 20, "color": "#2B3590", "align": "left", "baseline": "alphabetic"},
  "encoding": {
   "x": {"field": "x", "type": "quantitative", "scale": {"domain": [-60, 60], "nice": false, "zero": false}, "axis": null},
   "y": {"field": "y", "type": "quantitative", "scale": {"domain": [0, 45], "nice": false, "zero": false}, "axis": null},
   "text": {"field": "t"}
  }
 }
]
}
